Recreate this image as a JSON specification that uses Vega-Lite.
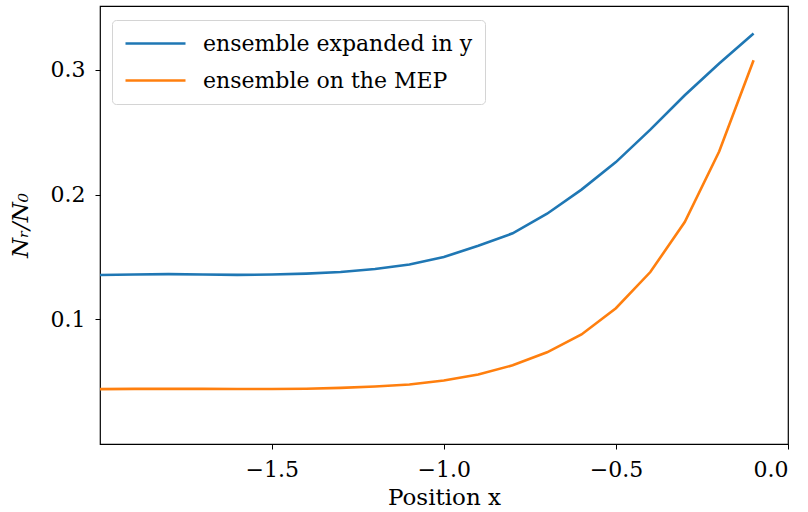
{
  "$schema": "https://vega.github.io/schema/vega-lite/v6.json",
  "width": 688,
  "height": 438,
  "autosize": {"type": "none"},
  "padding": {"left": 100, "top": 6, "right": 20, "bottom": 68},
  "background": "white",
  "config": {
    "view": {"stroke": "black", "strokeWidth": 1.2},
    "font": "DejaVu Serif"
  },
  "data": {
    "values": [
      {"x": -2.0, "ratio": 0.1356, "series": "ensemble expanded in y"},
      {"x": -1.9, "ratio": 0.1360, "series": "ensemble expanded in y"},
      {"x": -1.8, "ratio": 0.1363, "series": "ensemble expanded in y"},
      {"x": -1.7, "ratio": 0.1360, "series": "ensemble expanded in y"},
      {"x": -1.6, "ratio": 0.1357, "series": "ensemble expanded in y"},
      {"x": -1.5, "ratio": 0.1360, "series": "ensemble expanded in y"},
      {"x": -1.4, "ratio": 0.1367, "series": "ensemble expanded in y"},
      {"x": -1.3, "ratio": 0.1380, "series": "ensemble expanded in y"},
      {"x": -1.2, "ratio": 0.1404, "series": "ensemble expanded in y"},
      {"x": -1.1, "ratio": 0.1440, "series": "ensemble expanded in y"},
      {"x": -1.0, "ratio": 0.1500, "series": "ensemble expanded in y"},
      {"x": -0.9, "ratio": 0.1590, "series": "ensemble expanded in y"},
      {"x": -0.8, "ratio": 0.1690, "series": "ensemble expanded in y"},
      {"x": -0.7, "ratio": 0.1847, "series": "ensemble expanded in y"},
      {"x": -0.6, "ratio": 0.2040, "series": "ensemble expanded in y"},
      {"x": -0.5, "ratio": 0.2260, "series": "ensemble expanded in y"},
      {"x": -0.4, "ratio": 0.2520, "series": "ensemble expanded in y"},
      {"x": -0.3, "ratio": 0.2795, "series": "ensemble expanded in y"},
      {"x": -0.2, "ratio": 0.3050, "series": "ensemble expanded in y"},
      {"x": -0.1, "ratio": 0.3290, "series": "ensemble expanded in y"},
      {"x": -2.0, "ratio": 0.0442, "series": "ensemble on the MEP"},
      {"x": -1.9, "ratio": 0.0444, "series": "ensemble on the MEP"},
      {"x": -1.8, "ratio": 0.0444, "series": "ensemble on the MEP"},
      {"x": -1.7, "ratio": 0.0444, "series": "ensemble on the MEP"},
      {"x": -1.6, "ratio": 0.0443, "series": "ensemble on the MEP"},
      {"x": -1.5, "ratio": 0.0443, "series": "ensemble on the MEP"},
      {"x": -1.4, "ratio": 0.0445, "series": "ensemble on the MEP"},
      {"x": -1.3, "ratio": 0.0452, "series": "ensemble on the MEP"},
      {"x": -1.2, "ratio": 0.0464, "series": "ensemble on the MEP"},
      {"x": -1.1, "ratio": 0.0480, "series": "ensemble on the MEP"},
      {"x": -1.0, "ratio": 0.0512, "series": "ensemble on the MEP"},
      {"x": -0.9, "ratio": 0.0560, "series": "ensemble on the MEP"},
      {"x": -0.8, "ratio": 0.0633, "series": "ensemble on the MEP"},
      {"x": -0.7, "ratio": 0.0737, "series": "ensemble on the MEP"},
      {"x": -0.6, "ratio": 0.0880, "series": "ensemble on the MEP"},
      {"x": -0.5, "ratio": 0.1090, "series": "ensemble on the MEP"},
      {"x": -0.4, "ratio": 0.1380, "series": "ensemble on the MEP"},
      {"x": -0.3, "ratio": 0.1780, "series": "ensemble on the MEP"},
      {"x": -0.2, "ratio": 0.2345, "series": "ensemble on the MEP"},
      {"x": -0.1, "ratio": 0.3076, "series": "ensemble on the MEP"}
    ]
  },
  "mark": {"type": "line", "strokeWidth": 2.6, "clip": true},
  "encoding": {
    "x": {
      "field": "x",
      "type": "quantitative",
      "scale": {"domain": [-1.999, 0], "nice": false, "zero": false},
      "axis": {
        "title": "Position x",
        "values": [-1.5, -1.0, -0.5, 0.0],
        "format": ".1f",
        "grid": false,
        "domain": false,
        "tickColor": "black",
        "tickSize": 5,
        "tickWidth": 1,
        "labelFontSize": 22,
        "labelColor": "black",
        "labelPadding": 10,
        "titleFontSize": 23,
        "titleFontWeight": "normal",
        "titleColor": "black",
        "titlePadding": 6
      }
    },
    "y": {
      "field": "ratio",
      "type": "quantitative",
      "scale": {"domain": [0.0003, 0.351], "nice": false, "zero": false},
      "axis": {
        "title": "Nᵣ/N₀",
        "values": [0.1, 0.2, 0.3],
        "format": ".1f",
        "grid": false,
        "domain": false,
        "tickColor": "black",
        "tickSize": 5,
        "tickWidth": 1,
        "labelFontSize": 22,
        "labelColor": "black",
        "labelPadding": 10,
        "titleFontSize": 23,
        "titleFontWeight": "normal",
        "titleFontStyle": "italic",
        "titleColor": "black",
        "titlePadding": 18
      }
    },
    "color": {
      "field": "series",
      "type": "nominal",
      "scale": {
        "domain": ["ensemble expanded in y", "ensemble on the MEP"],
        "range": ["#1f77b4", "#ff7f0e"]
      },
      "legend": {
        "title": null,
        "orient": "none",
        "legendX": 12,
        "legendY": 14,
        "symbolType": "M-1,0H5",
        "symbolSize": 400,
        "symbolStrokeWidth": 2.6,
        "labelFontSize": 22,
        "labelColor": "black",
        "labelLimit": 500,
        "labelOffset": 56,
        "rowPadding": 14,
        "padding": 12,
        "strokeColor": "#d4d4d4",
        "fillColor": "white",
        "cornerRadius": 4
      }
    }
  }
}
